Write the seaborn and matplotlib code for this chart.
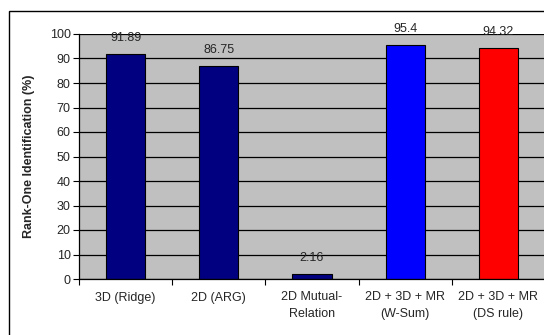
import matplotlib
matplotlib.use("Agg")
import numpy as np
import seaborn as sns
from matplotlib import pyplot as plt
from matplotlib.patches import Rectangle
from matplotlib.ticker import FixedLocator, NullFormatter

# chart data
categories = ["3D (Ridge)", "2D (ARG)", "2D Mutual-\nRelation",
              "2D + 3D + MR\n(W-Sum)", "2D + 3D + MR\n(DS rule)"]
rank_one = [91.89, 86.75, 2.16, 95.4, 94.32]
value_labels = ["91.89", "86.75", "2.16", "95.4", "94.32"]
bar_colors = ["#000080", "#000080", "#000080", "#0000FF", "#FF0000"]
y_ticks = [0, 10, 20, 30, 40, 50, 60, 70, 80, 90, 100]

sns.set_style("white")
plt.rcParams["font.family"] = ["Liberation Sans", "DejaVu Sans"]

W, H = 544, 335
fs = 9
fig = plt.figure(figsize=(W / 100, H / 100), dpi=100)

# outer chart frame
fig.patches.append(Rectangle((9 / W, -0.01), 1.02, (H - 11) / H + 0.01,
                             transform=fig.transFigure, fill=False,
                             edgecolor="black", linewidth=1.0))

ax = fig.add_axes([79 / W, (H - 279) / H, 466 / W, 245 / H])
ax.set_facecolor("#C0C0C0")

sns.barplot(x=categories, y=rank_one, hue=categories, palette=bar_colors,
            legend=False, width=0.42, edgecolor="black", linewidth=0.8,
            saturation=1, ax=ax, zorder=3)

ax.set_xlim(-0.5, 4.5)
ax.set_ylim(0, 100)
ax.set_yticks(y_ticks)
ax.set_yticklabels([str(t) for t in y_ticks], fontsize=fs)
ax.yaxis.grid(True, color="black", linewidth=0.9, zorder=1)
ax.set_axisbelow(True)

# category labels at centers, tick marks at category boundaries
ax.set_xticks(range(len(categories)))
ax.set_xticklabels(categories, fontsize=fs, linespacing=1.45)
ax.tick_params(axis="x", which="major", length=0, pad=9)
ax.xaxis.set_minor_locator(FixedLocator(np.arange(-0.5, 5, 1)))
ax.xaxis.set_minor_formatter(NullFormatter())
ax.tick_params(axis="x", which="minor", length=4, width=0.8, color="black",
               direction="out", bottom=True)
ax.tick_params(axis="y", length=4, width=0.8, color="black", direction="out",
               left=True, pad=2)

for s in ["top", "right"]:
    ax.spines[s].set_visible(False)
for s in ["left", "bottom"]:
    ax.spines[s].set_color("black")
    ax.spines[s].set_linewidth(0.9)
    ax.spines[s].set_zorder(4)

for i, (v, lab) in enumerate(zip(rank_one, value_labels)):
    ax.annotate(lab, (i, v), xytext=(0, 11.5), textcoords="offset points",
                ha="center", va="center", fontsize=fs, annotation_clip=False)

ax.set_xlabel("")
ax.set_ylabel("Rank-One Identification (%)", fontsize=fs, fontweight="bold")
ax.yaxis.set_label_coords((35 - 79) / 466, 0.5)

fig.savefig("out.png", dpi=100)
